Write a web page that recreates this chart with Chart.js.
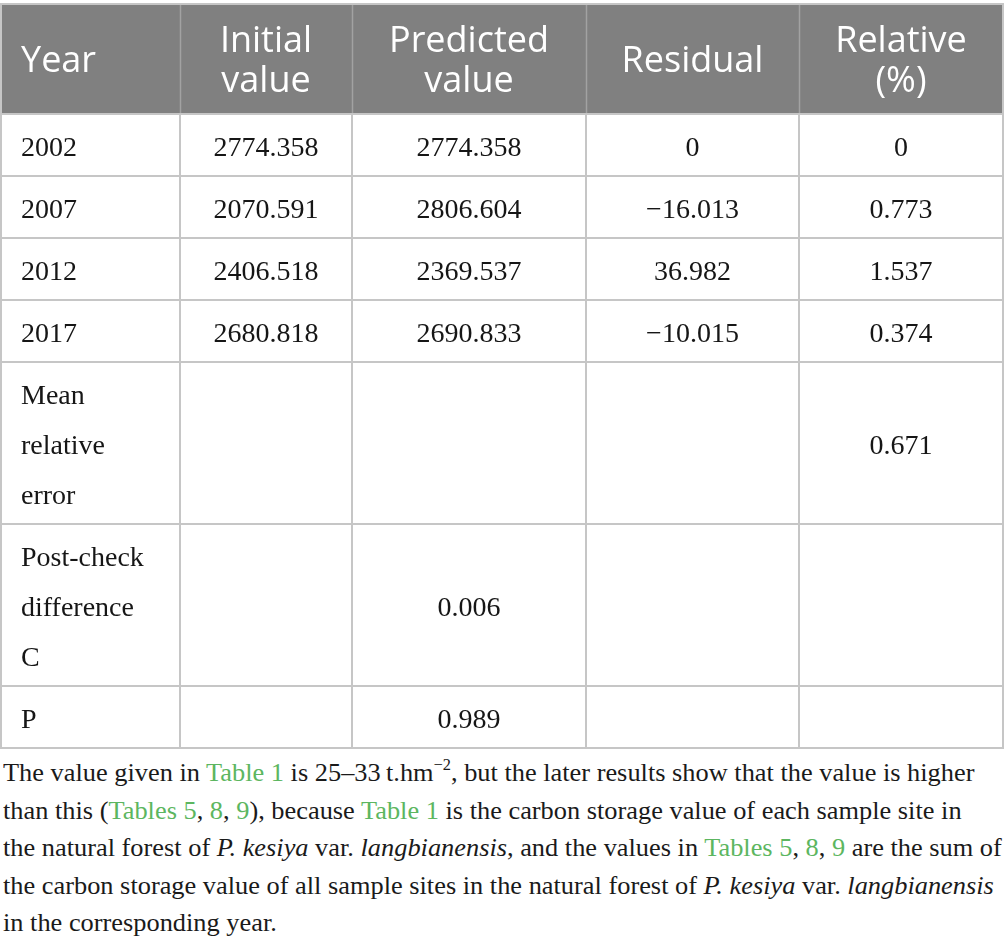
<!DOCTYPE html>
<html>
<head>
<meta charset="utf-8">
<title>Grey model test</title>
<script src="https://cdn.jsdelivr.net/npm/chart.js@4.4.1/dist/chart.umd.min.js"></script>
<style>
  body { margin: 0; background: #fff; }
  #wrap { position: absolute; left: 0; top: 0; width: 1005px; height: 750px; }
  #caption {
    position: absolute; left: 3px; top: 754px;
    font-family: "Liberation Serif", serif; font-size: 26px; line-height: 37.5px;
    color: #1a1a1a; transform-origin: left top; white-space: nowrap;
  }
  #caption .ln { display: block; }
  #caption .ln span.w { display: inline-block; }
  #caption .g { color: #5cb660; }
  #caption sup { font-size: 0.62em; line-height: 0; vertical-align: 0.7em; }
</style>
</head>
<body>
<div id="wrap"><canvas id="tbl"></canvas></div>
<div id="caption">
  <div class="ln"><span class="w" id="firstLine">The value given in <span class="g">Table 1</span> is 25–33&#8201;t.hm<sup>−2</sup>, but the later results show that the value is higher</span></div>
  <div class="ln"><span class="w">than this (<span class="g">Tables 5</span>, <span class="g">8</span>, <span class="g">9</span>), because <span class="g">Table 1</span> is the carbon storage value of each sample site in</span></div>
  <div class="ln"><span class="w">the natural forest of <i>P. kesiya</i> var. <i>langbianensis</i>, and the values in <span class="g">Tables 5</span>, <span class="g">8</span>, <span class="g">9</span> are the sum of</span></div>
  <div class="ln"><span class="w">the carbon storage value of all sample sites in the natural forest of <i>P. kesiya</i> var. <i>langbianensis</i></span></div>
  <div class="ln"><span class="w">in the corresponding year.</span></div>
</div>
<script>
// Table content
const headers = ['Year', 'Initial\nvalue', 'Predicted\nvalue', 'Residual', 'Relative\n(%)'];
const years = ['2002', '2007', '2012', '2017'];
const summaryLabels = ['Mean\nrelative\nerror', 'Post-check\ndifference\nC', 'P'];
const initialValues = [2774.358, 2070.591, 2406.518, 2680.818, null, null, null];
const predictedValues = [2774.358, 2806.604, 2369.537, 2690.833, null, 0.006, 0.989];
const residuals = [0, -16.013, 36.982, -10.015, null, null, null];
const relativeErrors = [0, 0.773, 1.537, 0.374, 0.671, null, null];

// Layout (table units: x in px-like units, y in body text lines)
const colEdges = [0, 180, 352, 586, 799, 1003];
const labelInset = 21;
const headerLine = 0.8, headerPad = 0.6;
const bodyLine = 1, bodyPad = 0.24;

function fmt(v) {
  if (v === null) return '';
  if (v === 0) return '0';
  return v.toFixed(3).replace('-', '\u2212');
}

const rowLabels = years.concat(summaryLabels);
const rows = rowLabels.map((label, i) => [
  label, fmt(initialValues[i]), fmt(predictedValues[i]), fmt(residuals[i]), fmt(relativeErrors[i])
]);

// row boundaries from the number of text lines in each row
const headerLines = Math.max(...headers.map(h => h.split('\n').length));
const rowEdges = [0, headerLines * headerLine + headerPad];
rows.forEach(r => {
  const n = Math.max(...r.map(t => t.split('\n').length));
  rowEdges.push(rowEdges[rowEdges.length - 1] + n * bodyLine + bodyPad);
});
const totalHeight = rowEdges[rowEdges.length - 1];

// one point per cell, placed at the cell anchor
const cells = [];
function anchorX(c) {
  return c === 0 ? colEdges[0] + labelInset : (colEdges[c] + colEdges[c + 1]) / 2;
}
headers.forEach((h, c) => {
  cells.push({ x: anchorX(c), y: (rowEdges[0] + rowEdges[1]) / 2, text: h, header: true, left: c === 0 });
});
rows.forEach((r, ri) => {
  r.forEach((t, c) => {
    if (!t) return;
    cells.push({ x: anchorX(c), y: (rowEdges[ri + 1] + rowEdges[ri + 2]) / 2, text: t, header: false, left: c === 0 });
  });
});

const tablePlugin = {
  id: 'tableGrid',
  beforeDatasetsDraw(chart) {
    const { ctx, scales: { x, y } } = chart;
    const left = x.getPixelForValue(colEdges[0]);
    const right = x.getPixelForValue(colEdges[colEdges.length - 1]);
    const top = y.getPixelForValue(rowEdges[0]);
    const hBottom = y.getPixelForValue(rowEdges[1]);
    const bottom = y.getPixelForValue(totalHeight);
    ctx.save();
    // header band
    ctx.fillStyle = '#808080';
    ctx.fillRect(left, top, right - left, hBottom - top);
    // header dividers
    ctx.strokeStyle = '#a2a2a2';
    ctx.lineWidth = 1.5;
    colEdges.slice(1, -1).forEach(e => {
      const px = Math.round(x.getPixelForValue(e)) + 0.5;
      ctx.beginPath(); ctx.moveTo(px, top); ctx.lineTo(px, hBottom); ctx.stroke();
    });
    // body grid
    ctx.strokeStyle = '#c6c6c6';
    ctx.lineWidth = 2;
    rowEdges.forEach(e => {
      const py = Math.round(y.getPixelForValue(e));
      ctx.beginPath(); ctx.moveTo(left, py); ctx.lineTo(right + 1, py); ctx.stroke();
    });
    colEdges.forEach((e, i) => {
      let px = Math.round(x.getPixelForValue(e));
      if (i === 0) px += 1;
      ctx.beginPath(); ctx.moveTo(px, i === 0 || i === colEdges.length - 1 ? top : hBottom); ctx.lineTo(px, bottom); ctx.stroke();
    });
    ctx.restore();
  },
  afterDatasetsDraw(chart) {
    const { ctx } = chart;
    const meta = chart.getDatasetMeta(0);
    const lineStep = chart.scales.y.getPixelForValue(1) - chart.scales.y.getPixelForValue(0);
    ctx.save();
    meta.data.forEach((el, i) => {
      const cell = chart.data.datasets[0].data[i];
      const lines = cell.text.split('\n');
      const size = cell.header ? 36 : 28;
      const step = (cell.header ? headerLine : bodyLine) * lineStep;
      ctx.font = cell.header ? size + 'px "Open Sans"' : size + 'px "Liberation Serif"';
      ctx.fillStyle = cell.header ? '#ffffff' : '#161616';
      ctx.textAlign = cell.left ? 'left' : 'center';
      ctx.textBaseline = 'alphabetic';
      const shift = size * (cell.header ? 0.37 : 0.39);
      lines.forEach((ln, k) => {
        const cy = el.y + (k - (lines.length - 1) / 2) * step;
        ctx.fillText(ln, el.x, cy + shift);
      });
    });
    ctx.restore();
  }
};

new Chart(document.getElementById('tbl'), {
  type: 'scatter',
  data: {
    datasets: [{
      label: 'cells',
      data: cells,
      pointRadius: 0,
      pointHoverRadius: 0
    }]
  },
  options: {
    responsive: true,
    maintainAspectRatio: false,
    animation: false,
    events: [],
    layout: { padding: { top: 4, left: 0, right: 2, bottom: 2 } },
    plugins: { legend: { display: false }, tooltip: { enabled: false } },
    scales: {
      x: { type: 'linear', display: false, min: colEdges[0], max: colEdges[colEdges.length - 1] },
      y: { type: 'linear', display: false, min: 0, max: totalHeight, reverse: true }
    }
  },
  plugins: [tablePlugin]
});

// fit the note text to the measured line length
const first = document.getElementById('firstLine');
const sx = 971 / first.getBoundingClientRect().width;
document.getElementById('caption').style.transform = 'scaleX(' + sx.toFixed(3) + ')';
</script>
</body>
</html>
